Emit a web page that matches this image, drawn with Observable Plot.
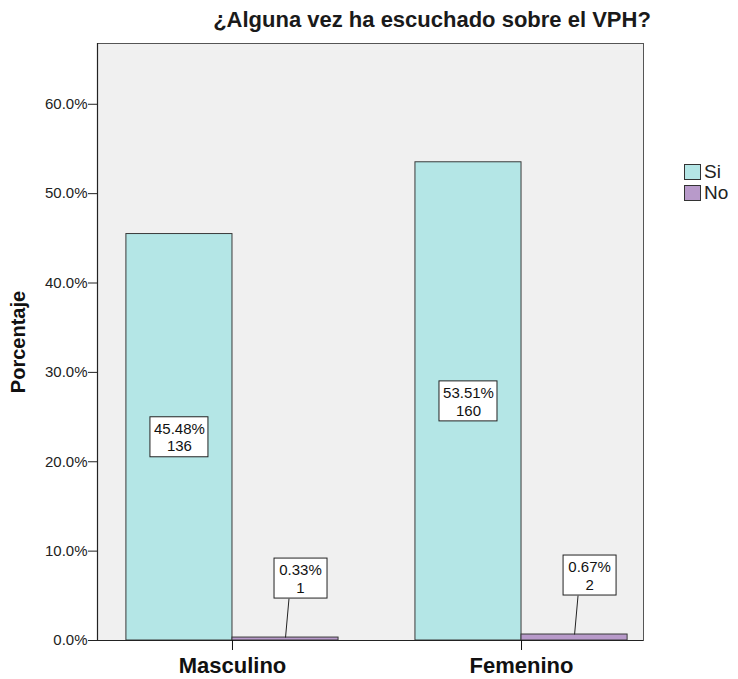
<!DOCTYPE html>
<html>
<head>
<meta charset="utf-8">
<script src="https://cdn.jsdelivr.net/npm/d3@7"></script>
<script src="https://cdn.jsdelivr.net/npm/@observablehq/plot@0.6"></script>
<style>
  body { margin: 0; background: #fff; font-family: "Liberation Sans", Arial, sans-serif; }
  #wrap { position: relative; width: 738px; height: 679px; }
  #title { position: absolute; left: 0; width: 864px; top: 7px; text-align: center;
           font-size: 22px; font-weight: bold; color: #1a1a1a; white-space: nowrap; }
  #legend { position: absolute; left: 684px; top: 161px; font-size: 19px; color: #222; }
  .item { display: flex; align-items: center; height: 21px; }
  .sw { width: 17px; height: 16px; border: 1px solid #333; margin-right: 3px; box-sizing: border-box; }
</style>
</head>
<body>
<div id="wrap">
  <div id="title"></div>
  <div id="legend"></div>
</div>
<script>
const title = "¿Alguna vez ha escuchado sobre el VPH?";
const categories = ["Masculino", "Femenino"];
const series = ["Si", "No"];
const siPct = [45.48, 53.51];
const siCount = [136, 160];
const noPct = [0.33, 0.67];
const noCount = [1, 2];
const yTicks = [0, 10, 20, 30, 40, 50, 60];
const colors = ["#b4e6e6", "#b89aca"];

const barW = 0.367;
const rows = [];
categories.forEach((c, i) => {
  rows.push({cat: c, s: "Si", x1: i - barW, x2: i, v: siPct[i], n: siCount[i]});
  rows.push({cat: c, s: "No", x1: i, x2: i + barW, v: noPct[i], n: noCount[i]});
});
const siRows = rows.filter(d => d.s === "Si").map(d => ({...d, cx: (d.x1 + d.x2) / 2, ly: d.v / 2}));
const noRows = rows.filter(d => d.s === "No").map(d => ({...d, cx: (d.x1 + d.x2) / 2, ly: d.v + 6.6}));
const fmt = d => d.v.toFixed(2) + "%\n" + d.n;

const chart = Plot.plot({
  width: 738,
  height: 679,
  marginTop: 43,
  marginBottom: 39,
  marginLeft: 97,
  marginRight: 95,
  style: { fontFamily: "Liberation Sans, Arial, sans-serif", background: "transparent", overflow: "visible" },
  x: { type: "linear", domain: [-0.467, 1.422], axis: null },
  y: { domain: [0, 66.8], axis: null },
  color: { domain: series, range: colors },
  marks: [
    Plot.frame({ fill: "#f0f0f0", stroke: "#555" }),
    Plot.rect(rows, { x1: "x1", x2: "x2", y1: 0, y2: "v", fill: "s", stroke: "#3a3a3a", strokeWidth: 1 }),
    // y axis
    Plot.ruleX([0], { x: -0.467, stroke: "#222", strokeWidth: 1.2 }),
    Plot.axisY({ ticks: yTicks, tickFormat: d => d.toFixed(1) + "%", tickSize: 9, tickPadding: 1,
                 fontSize: 15, label: null, color: "#222" }),
    Plot.text(["Porcentaje"], { frameAnchor: "left", textAnchor: "middle", dx: -79, rotate: -90,
                 fontSize: 20, fontWeight: "bold", fill: "#111" }),
    // x axis
    Plot.ruleY([0], { stroke: "#222", strokeWidth: 1.2 }),
    Plot.axisX({ ticks: [0, 1], tickFormat: i => categories[i], tickSize: 10, tickPadding: 7,
                 fontSize: 22, fontWeight: "bold", label: null, color: "#111" }),
    // Si labels
    Plot.rect(siRows, { x1: "cx", x2: "cx", y1: "ly", y2: "ly", insetLeft: -29, insetRight: -29,
                 insetTop: -20, insetBottom: -20, fill: "white", stroke: "#222" }),
    Plot.text(siRows, { x: "cx", y: "ly", text: fmt, fontSize: 15, fill: "#111", lineHeight: 1.15 }),
    // No labels with leader lines
    Plot.link(noRows, { x1: "cx", y1: "v", x2: d => d.cx + 0.012, y2: d => d.ly - 2.25, stroke: "#222" }),
    Plot.rect(noRows, { x1: "cx", x2: "cx", y1: "ly", y2: "ly", insetLeft: -11, insetRight: -42,
                 insetTop: -20, insetBottom: -20, fill: "white", stroke: "#222" }),
    Plot.text(noRows, { x: "cx", y: "ly", dx: 15, text: fmt, fontSize: 15, fill: "#111", lineHeight: 1.15 })
  ]
});
document.getElementById("wrap").prepend(chart);
chart.style.position = "absolute";
chart.style.left = "0";
chart.style.top = "0";
document.getElementById("title").textContent = title;
const leg = document.getElementById("legend");
series.forEach((s, i) => {
  const it = document.createElement("div");
  it.className = "item";
  it.innerHTML = `<div class="sw" style="background:${colors[i]}"></div><span>${s}</span>`;
  leg.appendChild(it);
});
</script>
</body>
</html>
